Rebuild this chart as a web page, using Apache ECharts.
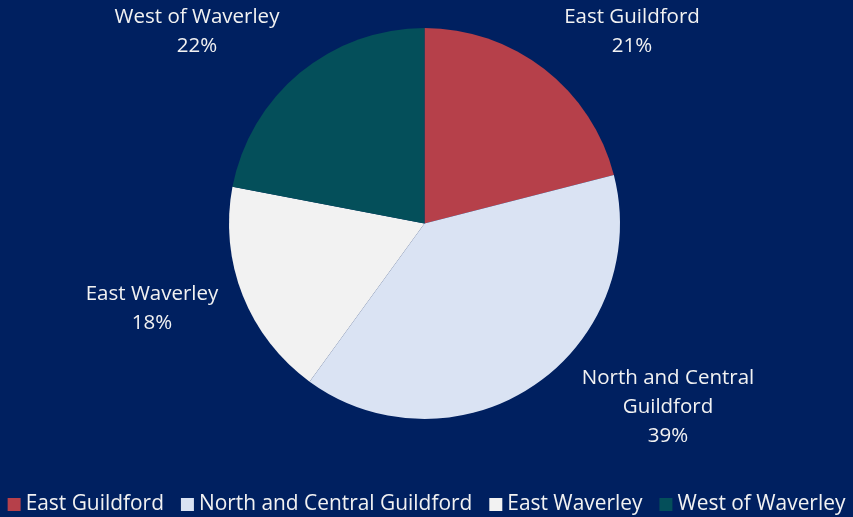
<!DOCTYPE html>
<html>
<head>
<meta charset="utf-8">
<script src="https://cdn.jsdelivr.net/npm/echarts@6/dist/echarts.min.js"></script>
<style>
  html, body { margin: 0; padding: 0; background: #002060; }
  #chart { width: 853px; height: 517px; }
</style>
</head>
<body>
<div id="chart"></div>
<script>
// Share of sites by area (percent)
const areas = ['East Guildford', 'North and Central Guildford', 'East Waverley', 'West of Waverley'];
const shares = [21, 39, 18, 22];
// Label text, wrapped as it is printed beside each slice
const labelNames = ['East Guildford', 'North and Central\nGuildford', 'East Waverley', 'West of Waverley'];
const sliceColors = ['#B6404A', '#DAE3F3', '#F2F2F2', '#044F5A'];

// Label anchor points (text centres) beside each slice
const labelAnchors = [[632, 32], [668, 407], [152, 309], [197, 32]];

const chart = echarts.init(document.getElementById('chart'));
const font = '"Open Sans", Lato, sans-serif';

chart.setOption({
  backgroundColor: '#002060',
  animation: false,
  legend: {
    bottom: 0,
    left: 'center',
    padding: [5, 5, 2, 5],
    icon: 'rect',
    itemWidth: 13,
    itemHeight: 13,
    itemGap: 17,
    textStyle: { color: '#F2F2F2', fontSize: 20.9, fontFamily: font },
    data: areas
  },
  series: [{
    type: 'pie',
    center: [424.5, 223.5],
    radius: 195.5,
    startAngle: 90,
    clockwise: true,
    silent: true,
    label: {
      show: true,
      position: 'outside',
      color: '#F2F2F2',
      fontSize: 20.5,
      lineHeight: 29,
      fontFamily: font,
      align: 'center',
      formatter: function (p) {
        return labelNames[p.dataIndex] + '\n' + p.value + '%';
      }
    },
    labelLine: { show: false },
    labelLayout: function (params) {
      const a = labelAnchors[params.dataIndex];
      return { x: a[0], y: a[1], align: 'center', verticalAlign: 'middle' };
    },
    data: areas.map(function (name, i) {
      return { name: name, value: shares[i], itemStyle: { color: sliceColors[i] } };
    })
  }]
});
</script>
</body>
</html>
